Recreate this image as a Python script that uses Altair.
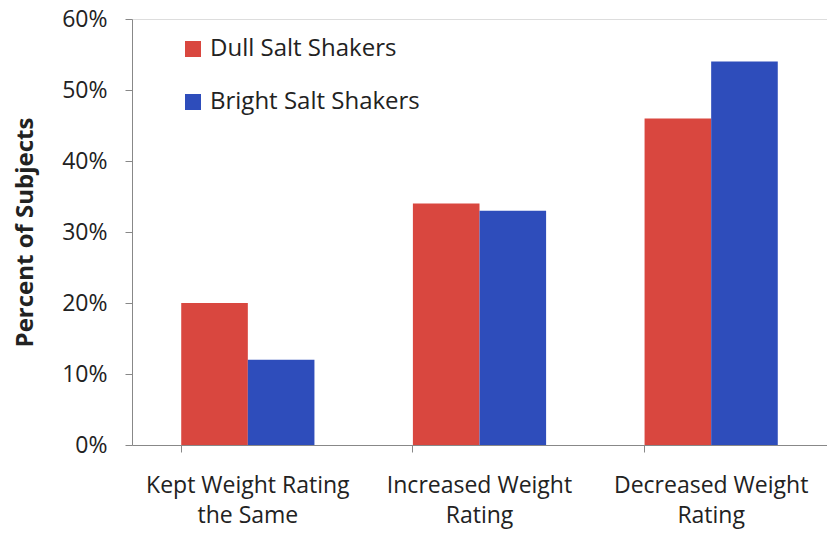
import altair as alt
import pandas as pd

categories = ["Kept Weight Rating|the Same", "Increased Weight|Rating", "Decreased Weight|Rating"]
series = ["Dull Salt Shakers", "Bright Salt Shakers"]
dull = [0.20, 0.34, 0.46]
bright = [0.12, 0.33, 0.54]
colors = ["#d9473f", "#2e4dbb"]

rows = []
for i, c in enumerate(categories):
    rows.append({"cat": c, "series": series[0], "value": dull[i], "order": 0})
    rows.append({"cat": c, "series": series[1], "value": bright[i], "order": 1})
df = pd.DataFrame(rows)

FONT = "Open Sans"

chart = alt.Chart(df).mark_bar().encode(
    x=alt.X("cat:N", sort=categories,
            scale=alt.Scale(paddingInner=0.425, paddingOuter=0.2125),
            axis=alt.Axis(title=None, labelAngle=0, labelExpr="split(datum.label, '|')",
                          labelFontSize=23, labelFont=FONT, labelColor="#222222", labelLimit=400,
                          labelPadding=22, labelLineHeight=30, tickSize=7, bandPosition=0,
                          domainColor="#888888", tickColor="#888888", labelBaseline="top")),
    xOffset=alt.XOffset("series:N", sort=series),
    y=alt.Y("value:Q", scale=alt.Scale(domain=[0, 0.6]),
            axis=alt.Axis(title="Percent of Subjects", format=".0%", values=[0, 0.1, 0.2, 0.3, 0.4, 0.5, 0.6],
                          grid=False, labelFontSize=23, labelFont=FONT, labelColor="#222222",
                          labelPadding=18, tickSize=7, titleFont=FONT, titleFontSize=24,
                          titleFontWeight="bold", titleColor="#222222", titlePadding=24,
                          domainColor="#888888", tickColor="#888888")),
    color=alt.Color("series:N", sort=series,
                    scale=alt.Scale(domain=series, range=colors),
                    legend=alt.Legend(title=None, orient="none", legendX=49, legendY=18,
                                      symbolType="square", symbolSize=256, symbolStrokeWidth=0,
                                      labelFontSize=24, labelFont=FONT, labelColor="#222222",
                                      labelLimit=400, rowPadding=29, labelOffset=5)),
).properties(
    width=695, height=426,
    autosize=alt.AutoSizeParams(type="none"),
    padding={"left": 132, "top": 19, "right": 0, "bottom": 88},
).configure_view(stroke=None).configure(background="white")

chart.save("out.html", embed_options={"renderer": "svg", "actions": False})
